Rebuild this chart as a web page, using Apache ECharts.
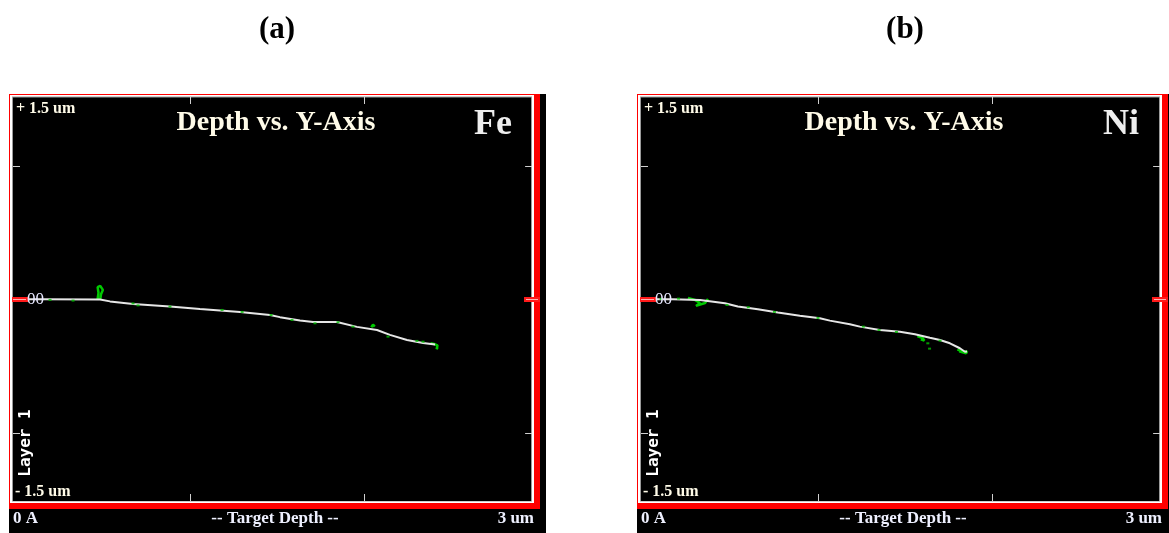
<!DOCTYPE html>
<html>
<head>
<meta charset="utf-8">
<script src="https://cdn.jsdelivr.net/npm/echarts@6/dist/echarts.min.js"></script>
<style>
html,body{margin:0;padding:0;background:#fff;}
#c{width:1169px;height:533px;}
</style>
</head>
<body>
<div id="c"></div>
<script>
// ---- data (depth in um, Y in um) ----
const panelTitles = ['(a)', '(b)'];
const elements = ['Fe', 'Ni'];
const xTickValues = [1, 2];
const yTickValues = [-1, 1];

const feDepth = [0, 0.157, 0.484, 0.541, 0.673, 0.885, 1.057, 1.287, 1.459, 1.516, 1.631, 1.706, 1.843, 1.958, 2.073, 2.147, 2.245, 2.337, 2.406];
const feY     = [0, 0, -0.002, -0.016, -0.035, -0.055, -0.073, -0.095, -0.118, -0.134, -0.159, -0.170, -0.170, -0.207, -0.230, -0.267, -0.305, -0.327, -0.339];

const feGreenDepth = [0.47, 0.475, 0.47, 0.485, 0.50, 0.49, 0.485, null, 2.04, 2.05, 2.06, null, 2.38, 2.40, 2.42, 2.415, 2.42];
const feGreenY     = [0.0, 0.05, 0.09, 0.10, 0.07, 0.04, 0.0, null, -0.21, -0.19, -0.205, null, -0.33, -0.335, -0.345, -0.375, -0.36];
const feSpeckDepth = [0.197, 0.329, 0.673, 0.702, 0.885, 1.184, 1.299, 1.465, 1.585, 1.717, 1.849, 1.935, 2.136, 2.302, 2.337];
const feSpeckY     = [-0.005, -0.010, -0.031, -0.046, -0.055, -0.080, -0.095, -0.118, -0.155, -0.180, -0.172, -0.205, -0.280, -0.312, -0.318];

const niDepth = [0, 0.162, 0.323, 0.466, 0.540, 0.655, 0.770, 0.896, 1.011, 1.068, 1.183, 1.240, 1.355, 1.470, 1.556, 1.642, 1.700, 1.757, 1.814, 1.843, 1.855];
const niY     = [0, 0, -0.005, -0.030, -0.055, -0.075, -0.100, -0.123, -0.142, -0.160, -0.187, -0.205, -0.230, -0.243, -0.262, -0.288, -0.305, -0.330, -0.367, -0.393, -0.391];

const niGreenDepth = [0.254, 0.294, 0.323, 0.300, 0.352, 0.369, null, 1.57, 1.60, 1.61, 1.59, null, 1.80, 1.83, 1.855, 1.85, 1.81];
const niGreenY     = [0.010, -0.005, -0.028, -0.050, -0.028, 0.002, null, -0.275, -0.29, -0.31, -0.30, null, -0.375, -0.395, -0.39, -0.405, -0.39];
const niSpeckDepth = [0.10, 0.20, 0.478, 0.60, 0.75, 1.00, 1.26, 1.35, 1.45, 1.70, 1.63, 1.64];
const niSpeckY     = [0.003, 0.005, -0.043, -0.060, -0.095, -0.140, -0.205, -0.230, -0.245, -0.310, -0.330, -0.370];

function pairs(xs, ys) {
  return xs.map((x, i) => (x === null ? ['-', '-'] : [x, ys[i]]));
}

const offsets = [0, 628];
const serif = '"Liberation Serif", "DejaVu Serif", serif';

const grids = [], xAxes = [], yAxes = [], series = [], graphics = [];
const tickStyle = { color: '#cfcfcf', width: 1 };

const mainData = [[feDepth, feY], [niDepth, niY]];
const greenData = [[feGreenDepth, feGreenY], [niGreenDepth, niGreenY]];
const speckData = [[feSpeckDepth, feSpeckY], [niSpeckDepth, niSpeckY]];

offsets.forEach((ox, p) => {
  grids.push({ left: 15.7 + ox, top: 99, width: 522.9, height: 400.5, containLabel: false });
  const baseX = {
    type: 'value', gridIndex: p, min: 0, max: 3, interval: 1,
    axisLine: { show: false, onZero: false }, splitLine: { show: false }, axisLabel: { show: false },
    axisTick: { show: true, inside: true, length: 7, lineStyle: tickStyle, customValues: xTickValues }
  };
  xAxes.push(Object.assign({}, baseX, { position: 'bottom', offset: 1.5 }));
  xAxes.push(Object.assign({}, baseX, { position: 'top', offset: 2 }));
  const baseY = {
    type: 'value', gridIndex: p, min: -1.5, max: 1.5, interval: 0.5,
    axisLine: { show: false, onZero: false }, splitLine: { show: false }, axisLabel: { show: false },
    axisTick: { show: true, inside: true, length: 7, lineStyle: tickStyle, customValues: yTickValues }
  };
  yAxes.push(Object.assign({}, baseY, { position: 'left', offset: 2.7 }));
  yAxes.push(Object.assign({}, baseY, { position: 'right', offset: -6.5 }));

  const xi = p * 2, yi = p * 2;
  series.push({
    type: 'line', xAxisIndex: xi, yAxisIndex: yi, data: pairs(greenData[p][0], greenData[p][1]),
    showSymbol: false, connectNulls: false, lineStyle: { color: '#00c800', width: 2.5 }, z: 3, silent: true
  });
  series.push({
    type: 'line', xAxisIndex: xi, yAxisIndex: yi, data: pairs(mainData[p][0], mainData[p][1]),
    showSymbol: false, lineStyle: { color: '#e6e6e6', width: 2 }, z: 4, silent: true
  });
  series.push({
    type: 'scatter', xAxisIndex: xi, yAxisIndex: yi, data: pairs(speckData[p][0], speckData[p][1]),
    symbol: 'rect', symbolSize: [3, 2], itemStyle: { color: '#00c000' }, z: 5, silent: true
  });

  // frame
  graphics.push({ type: 'rect', z: -100, shape: { x: 9 + ox, y: 94, width: 537, height: 439 }, style: { fill: '#000' } });
  graphics.push({ type: 'rect', z: -99, shape: { x: 9 + ox, y: 94, width: 531, height: 415 }, style: { fill: '#ff0000' } });
  graphics.push({ type: 'rect', z: -98, shape: { x: 10 + ox, y: 95, width: 524, height: 408 }, style: { fill: '#ffffff' } });
  graphics.push({ type: 'rect', z: -97, shape: { x: 12 + ox, y: 96.5, width: 520, height: 405 }, style: { fill: '#9a9a9a' } });
  graphics.push({ type: 'rect', z: -96, shape: { x: 13 + ox, y: 97.5, width: 518, height: 403.5 }, style: { fill: '#000' } });
  // zero markers
  graphics.push({ type: 'rect', z: 50, shape: { x: 12 + ox, y: 297, width: 16, height: 5 }, style: { fill: '#ff1a1a' } });
  graphics.push({ type: 'rect', z: 51, shape: { x: 13 + ox, y: 299, width: 13, height: 1 }, style: { fill: '#ffb0b0' } });
  graphics.push({ type: 'rect', z: 50, shape: { x: 524 + ox, y: 297, width: 16, height: 5 }, style: { fill: '#ff1a1a' } });
  graphics.push({ type: 'rect', z: 51, shape: { x: 526 + ox, y: 299, width: 12, height: 1 }, style: { fill: '#ffb0b0' } });

  // texts
  const t = (text, x, y, size, opts) => graphics.push(Object.assign({
    type: 'text', z: 100, x: x + ox, y: y,
    style: Object.assign({ text: text, fill: '#ffffff', font: 'bold ' + size + 'px ' + serif, textAlign: 'left', textVerticalAlign: 'middle' }, opts || {})
  }));
  t(panelTitles[p], 277, 30, 31, { fill: '#000', textAlign: 'center' });
  t('Depth vs. Y-Axis', 276, 123, 28, { textAlign: 'center', fill: '#fffbe8' });
  t(elements[p], 493, 125, 36, { textAlign: 'center', fill: '#eeeeee' });
  t('+ 1.5 um', 16, 109, 16, { fill: '#fffbe8' });
  t('- 1.5 um', 15, 492, 16, { fill: '#fffbe8' });
  t('00', 27, 300, 17, { font: '17px ' + serif, fill: '#e8e8ff' });
  t('0 A', 13, 519, 17, { fill: '#eef0ff' });
  t('-- Target Depth --', 275, 519, 17, { textAlign: 'center', fill: '#eef0ff' });
  t('3 um', 534, 519, 17, { textAlign: 'right', fill: '#eef0ff' });
  graphics.push({
    type: 'text', z: 100, x: 26 + ox, y: 443, rotation: Math.PI / 2,
    style: { text: 'Layer 1', fill: '#ffffff', font: 'bold 16px "DejaVu Sans Mono", monospace', textAlign: 'center', textVerticalAlign: 'middle' }
  });
});

const chart = echarts.init(document.getElementById('c'), null, { renderer: 'canvas' });
chart.setOption({
  animation: false,
  backgroundColor: '#ffffff',
  grid: grids,
  xAxis: xAxes,
  yAxis: yAxes,
  series: series,
  graphic: graphics
});
</script>
</body>
</html>
